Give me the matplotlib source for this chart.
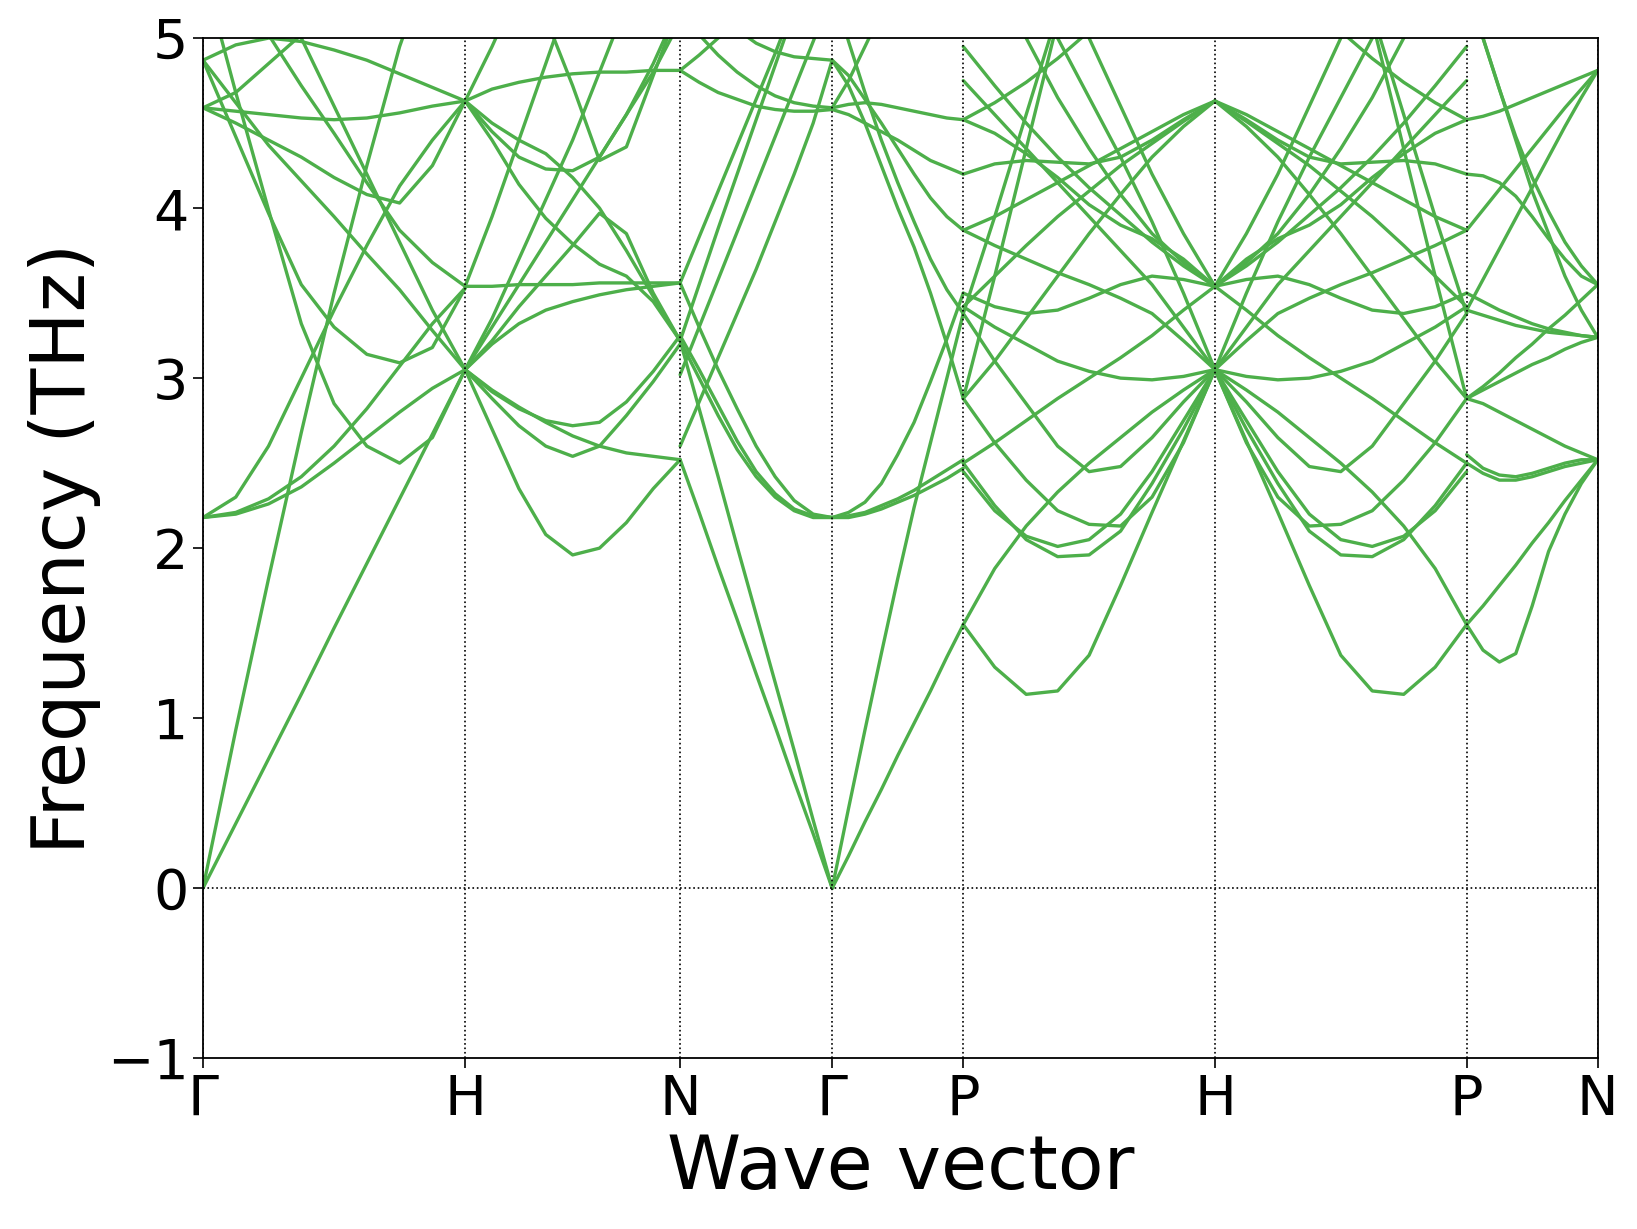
import numpy as np
import matplotlib
matplotlib.use("Agg")
import matplotlib.pyplot as plt

# high-symmetry path, segment lengths
labels = ["Γ", "H", "N", "Γ", "P", "H", "P", "N"]
seg_len = [1.0, 0.82, 0.58, 0.5, 0.96, 0.96, 0.5]
frac = np.linspace(0, 1, 9)   # 9 read-off points per segment

# band values (THz) read at frac positions along each segment
bands_GH = [
    [0.00, 0.38, 0.76, 1.14, 1.53, 1.91, 2.29, 2.67, 3.05],
    [0.00, 0.93, 1.82, 2.68, 3.50, 4.25, 4.95, 5.50, 6.00],
    [2.18, 2.20, 2.26, 2.36, 2.50, 2.65, 2.80, 2.94, 3.05],
    [2.18, 2.21, 2.29, 2.42, 2.60, 2.82, 3.07, 3.32, 3.53],
    [2.18, 2.30, 2.60, 3.00, 3.40, 3.78, 4.13, 4.40, 4.63],
    [5.40, 4.68, 3.99, 3.32, 2.85, 2.60, 2.50, 2.65, 3.05],
    [4.87, 4.42, 3.97, 3.55, 3.30, 3.14, 3.09, 3.18, 3.53],
    [4.87, 4.62, 4.37, 4.16, 3.95, 3.73, 3.52, 3.28, 3.05],
    [4.59, 4.57, 4.55, 4.53, 4.52, 4.53, 4.56, 4.60, 4.63],
    [4.87, 4.96, 5.00, 4.98, 4.93, 4.87, 4.79, 4.71, 4.63],
    [4.59, 4.50, 4.40, 4.30, 4.18, 4.08, 4.03, 4.25, 4.63],
    [5.50, 5.25, 5.02, 4.72, 4.44, 4.15, 3.87, 3.68, 3.54],
    [6.00, 5.70, 5.35, 5.00, 4.60, 4.20, 3.80, 3.40, 3.05],
    [4.59, 4.68, 4.85, 5.02, 5.20, 5.40, 5.60, 5.80, 6.00],
]
bands_HN = [
    [3.05, 2.70, 2.35, 2.08, 1.96, 2.00, 2.15, 2.35, 2.52],
    [3.05, 2.88, 2.72, 2.60, 2.54, 2.60, 2.78, 2.98, 3.20],
    [3.05, 2.93, 2.83, 2.74, 2.66, 2.60, 2.56, 2.54, 2.52],
    [3.05, 2.92, 2.82, 2.75, 2.72, 2.74, 2.86, 3.04, 3.25],
    [3.05, 3.20, 3.32, 3.40, 3.45, 3.49, 3.52, 3.54, 3.56],
    [3.54, 3.54, 3.55, 3.55, 3.55, 3.56, 3.56, 3.56, 3.56],
    [4.63, 4.70, 4.74, 4.77, 4.79, 4.80, 4.80, 4.81, 4.81],
    [4.63, 4.45, 4.30, 4.23, 4.22, 4.30, 4.55, 4.85, 5.20],
    [4.63, 4.40, 4.14, 3.94, 3.79, 3.67, 3.60, 3.45, 3.22],
    [4.63, 4.50, 4.40, 4.32, 4.18, 4.00, 3.75, 3.48, 3.22],
    [6.40, 6.00, 5.60, 5.12, 4.72, 4.28, 4.36, 4.78, 5.20],
    [3.05, 3.22, 3.42, 3.60, 3.78, 3.97, 3.85, 3.50, 3.22],
    [3.05, 3.35, 3.70, 4.05, 4.40, 4.80, 5.20, 5.60, 6.00],
    [3.54, 3.95, 4.40, 4.85, 5.30, 5.70, 6.10, 6.50, 6.90],
    [3.05, 3.30, 3.55, 3.80, 4.05, 4.30, 4.55, 4.80, 5.10],
    [4.63, 4.95, 5.30, 5.65, 6.00, 6.35, 6.70, 7.05, 7.40],
]
bands_NG = [
    [2.52, 2.21, 1.89, 1.58, 1.26, 0.95, 0.63, 0.32, 0.00],
    [3.22, 2.82, 2.42, 2.01, 1.61, 1.21, 0.81, 0.40, 0.00],
    [3.56, 3.30, 3.05, 2.82, 2.60, 2.42, 2.28, 2.20, 2.18],
    [3.25, 3.05, 2.84, 2.63, 2.45, 2.32, 2.23, 2.19, 2.18],
    [3.22, 3.00, 2.78, 2.58, 2.42, 2.30, 2.22, 2.18, 2.18],
    [4.81, 4.74, 4.68, 4.64, 4.60, 4.58, 4.57, 4.57, 4.58],
    [4.81, 4.90, 5.00, 5.10, 5.20, 5.30, 5.40, 5.50, 5.60],
    [5.20, 5.02, 4.90, 4.80, 4.72, 4.66, 4.62, 4.60, 4.59],
    [5.60, 5.40, 5.20, 5.05, 4.97, 4.92, 4.89, 4.88, 4.87],
    [3.56, 3.83, 4.10, 4.37, 4.64, 4.91, 5.20, 5.50, 5.80],
    [3.22, 3.55, 3.88, 4.20, 4.52, 4.84, 5.16, 5.50, 5.80],
    [2.60, 2.86, 3.12, 3.38, 3.64, 3.92, 4.20, 4.50, 4.87],
    [3.02, 3.30, 3.58, 3.86, 4.14, 4.42, 4.70, 4.98, 5.26],
]
bands_GP = [
    [0.00, 0.19, 0.39, 0.58, 0.78, 0.97, 1.16, 1.36, 1.55],
    [0.00, 0.47, 0.93, 1.38, 1.82, 2.24, 2.62, 3.00, 3.38],
    [2.18, 2.18, 2.20, 2.23, 2.27, 2.31, 2.36, 2.41, 2.47],
    [2.18, 2.19, 2.21, 2.25, 2.29, 2.34, 2.40, 2.46, 2.52],
    [2.18, 2.21, 2.27, 2.38, 2.55, 2.74, 2.98, 3.23, 3.50],
    [4.59, 4.61, 4.62, 4.61, 4.59, 4.57, 4.55, 4.53, 4.52],
    [4.58, 4.55, 4.50, 4.45, 4.40, 4.34, 4.28, 4.24, 4.20],
    [4.87, 4.72, 4.50, 4.25, 4.00, 3.77, 3.50, 3.20, 2.88],
    [5.30, 4.98, 4.68, 4.40, 4.15, 3.92, 3.70, 3.52, 3.38],
    [4.87, 4.78, 4.64, 4.50, 4.35, 4.20, 4.06, 3.95, 3.87],
    [4.59, 4.75, 4.95, 5.15, 5.35, 5.55, 5.75, 5.95, 6.15],
]
bands_PH = [
    [1.55, 1.30, 1.14, 1.16, 1.37, 1.78, 2.21, 2.63, 3.05],
    [1.55, 1.88, 2.13, 2.33, 2.50, 2.65, 2.80, 2.93, 3.05],
    [2.50, 2.25, 2.05, 1.95, 1.96, 2.10, 2.38, 2.70, 3.05],
    [2.45, 2.22, 2.07, 2.01, 2.05, 2.20, 2.45, 2.75, 3.05],
    [2.88, 2.62, 2.40, 2.22, 2.14, 2.13, 2.30, 2.62, 3.05],
    [3.38, 3.10, 2.85, 2.60, 2.45, 2.48, 2.65, 2.86, 3.05],
    [4.20, 4.26, 4.28, 4.27, 4.26, 4.30, 4.40, 4.52, 4.63],
    [4.52, 4.44, 4.32, 4.18, 4.02, 3.90, 3.82, 3.70, 3.54],
    [3.42, 3.60, 3.78, 3.95, 4.10, 4.25, 4.38, 4.51, 4.63],
    [2.88, 3.10, 3.35, 3.60, 3.85, 4.08, 4.30, 4.48, 4.63],
    [3.87, 3.95, 4.05, 4.15, 4.25, 4.35, 4.45, 4.55, 4.63],
    [5.60, 5.30, 5.00, 4.65, 4.35, 4.08, 3.85, 3.68, 3.54],
    [6.00, 5.65, 5.30, 5.00, 4.65, 4.30, 3.92, 3.50, 3.05],
    [4.75, 4.55, 4.35, 4.15, 3.95, 3.75, 3.55, 3.30, 3.05],
    [3.38, 3.95, 4.55, 5.15, 5.75, 6.35, 6.95, 7.55, 8.15],
    [2.88, 3.60, 4.35, 5.10, 5.80, 6.50, 7.20, 7.90, 8.60],
    [3.87, 3.78, 3.70, 3.62, 3.55, 3.47, 3.38, 3.22, 3.05],
    [3.42, 3.30, 3.20, 3.10, 3.04, 3.00, 2.99, 3.01, 3.05],
    [3.50, 3.42, 3.38, 3.40, 3.47, 3.55, 3.60, 3.58, 3.54],
    [2.50, 2.62, 2.75, 2.88, 3.00, 3.12, 3.25, 3.40, 3.54],
    [7.00, 6.50, 6.00, 5.50, 5.00, 4.60, 4.20, 3.85, 3.54],
    [4.95, 4.72, 4.50, 4.30, 4.12, 3.96, 3.80, 3.66, 3.54],
    [4.52, 4.62, 4.74, 4.88, 5.04, 5.20, 5.38, 5.56, 5.75],
]
bands_PN = [
    [1.55, 1.40, 1.33, 1.38, 1.66, 1.98, 2.20, 2.38, 2.52],
    [1.55, 1.66, 1.78, 1.90, 2.03, 2.15, 2.28, 2.40, 2.52],
    [2.50, 2.44, 2.40, 2.40, 2.42, 2.45, 2.48, 2.50, 2.52],
    [2.55, 2.47, 2.43, 2.42, 2.44, 2.47, 2.50, 2.52, 2.52],
    [2.88, 2.85, 2.80, 2.75, 2.70, 2.65, 2.60, 2.56, 2.52],
    [4.20, 4.19, 4.15, 4.07, 3.95, 3.82, 3.70, 3.60, 3.55],
    [3.40, 3.37, 3.34, 3.31, 3.29, 3.27, 3.26, 3.25, 3.24],
    [3.50, 3.45, 3.40, 3.36, 3.32, 3.29, 3.27, 3.25, 3.24],
    [2.88, 2.95, 3.03, 3.12, 3.20, 3.29, 3.37, 3.46, 3.55],
    [2.88, 2.93, 2.98, 3.03, 3.08, 3.12, 3.17, 3.21, 3.24],
    [4.52, 4.54, 4.57, 4.61, 4.65, 4.69, 4.73, 4.77, 4.81],
    [3.87, 3.99, 4.11, 4.23, 4.35, 4.47, 4.59, 4.70, 4.81],
    [5.30, 5.00, 4.70, 4.40, 4.10, 3.85, 3.60, 3.40, 3.24],
    [3.40, 3.58, 3.76, 3.94, 4.12, 4.30, 4.48, 4.65, 4.81],
    [5.40, 5.00, 4.70, 4.42, 4.18, 3.98, 3.80, 3.66, 3.55],
]
# H -> P runs the P -> H branch backwards (path is mirror-symmetric about H)
bands_HP = [b[::-1] for b in bands_PH]

segments = [bands_GH, bands_HN, bands_NG, bands_GP, bands_PH, bands_HP, bands_PN]
ticks = np.concatenate([[0], np.cumsum(seg_len)])

fig = plt.figure(figsize=(16.37, 12.29), dpi=100)
ax = fig.add_axes([0.124, 0.139, 0.852, 0.830])
green = "#4daf4a"
for x0, L, bands in zip(ticks[:-1], seg_len, segments):
    for b in bands:
        ax.plot(x0 + frac * L, b, color=green, lw=2.4, solid_capstyle="round")

for t in ticks:
    ax.axvline(t, color="k", ls=":", lw=1.2)
ax.axhline(0, color="k", ls=":", lw=1.2)

ax.set_xlim(ticks[0], ticks[-1])
ax.set_ylim(-1, 5)
ax.set_xticks(ticks)
ax.set_xticklabels(labels)
ax.set_yticks(range(-1, 6))
ax.tick_params(labelsize=40, length=7, width=1.2)
for s in ax.spines.values():
    s.set_linewidth(1.3)
ax.set_xlabel("Wave vector", fontsize=54)
ax.set_ylabel("Frequency (THz)", fontsize=54)

fig.savefig("out.png", dpi=100)
